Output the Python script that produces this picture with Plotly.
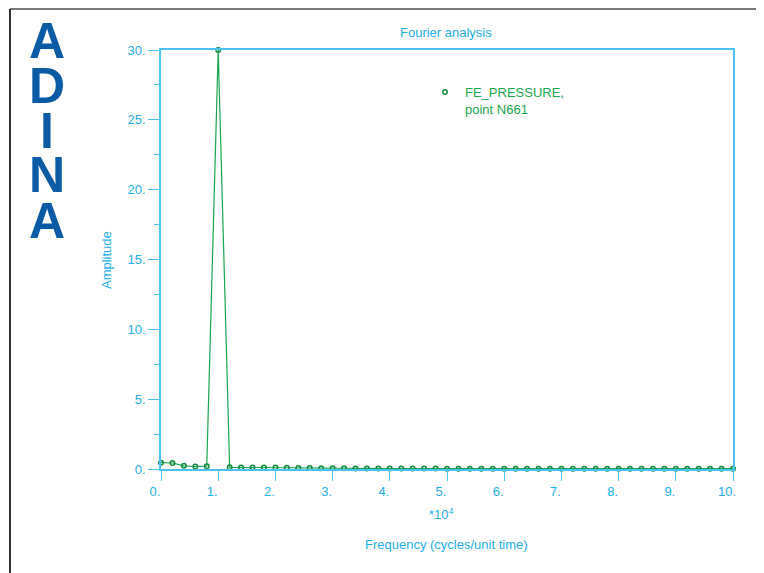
import plotly.graph_objects as go

# Data (frequency in units of 1e4 cycles/unit time)
freq = [0.0, 0.2, 0.4, 0.6, 0.8, 1.0, 1.2, 1.4, 1.6, 1.8,
        2.0, 2.2, 2.4, 2.6, 2.8, 3.0, 3.2, 3.4, 3.6, 3.8,
        4.0, 4.2, 4.4, 4.6, 4.8, 5.0, 5.2, 5.4, 5.6, 5.8,
        6.0, 6.2, 6.4, 6.6, 6.8, 7.0, 7.2, 7.4, 7.6, 7.8,
        8.0, 8.2, 8.4, 8.6, 8.8, 9.0, 9.2, 9.4, 9.6, 9.8, 10.0]
amplitude = [0.45, 0.43, 0.23, 0.18, 0.20, 30.0, 0.12, 0.11, 0.10, 0.10,
             0.10, 0.09, 0.08, 0.07, 0.06, 0.05, 0.05, 0.04, 0.04, 0.04,
             0.03, 0.03, 0.03, 0.03, 0.03, 0.02, 0.02, 0.02, 0.02, 0.02,
             0.02, 0.02, 0.02, 0.02, 0.02, 0.02, 0.02, 0.02, 0.02, 0.02,
             0.02, 0.02, 0.02, 0.02, 0.02, 0.02, 0.02, 0.02, 0.02, 0.02, 0.02]

x_tickvals = [0, 1, 2, 3, 4, 5, 6, 7, 8, 9, 10]
x_ticktext = ["0.", "1.", "2.", "3.", "4.", "5.", "6.", "7.", "8.", "9.", "10."]
y_tickvals = [0, 5, 10, 15, 20, 25, 30]
y_ticktext = ["0.", "5.", "10.", "15.", "20.", "25.", "30."]
series_name = "FE_PRESSURE,<br>point N661"
logo_letters = ["A", "D", "I", "N", "A"]

# The page places the figure 8px from the top-left corner (body margin),
# so the figure is laid out in page coordinates minus that offset.
OFF = 8
W, H = 764 - OFF, 573 - OFF
L, R, T, B = 161 - OFF, 733 - OFF, 50 - OFF, 469 - OFF
FONT = "Liberation Sans, Arial, Helvetica, sans-serif"
TXT = "#22aee8"
AX = "#4cc2f2"
GREEN = "#1aa650"
MGREEN = "#138a40"
LOGO = "#0b5aa6"


def px(x_page):
    return (x_page - OFF - L) / (R - L)


def py(y_page):
    return (B - (y_page - OFF)) / (B - T)


fig = go.Figure()
fig.add_trace(go.Scatter(
    x=freq, y=amplitude, mode="lines+markers", showlegend=False,
    line=dict(color=GREEN, width=1.2),
    marker=dict(symbol="circle-open", size=4.5, color=MGREEN, line=dict(width=1.5)),
    cliponaxis=False,
))
fig.add_trace(go.Scatter(
    x=[None], y=[None], mode="markers", name=series_name, showlegend=True,
    marker=dict(symbol="circle-open", size=4.5, color=MGREEN, line=dict(width=1.5)),
))

annotations = []
logo_y = [41, 86, 131, 175, 221]
for ch, yy in zip(logo_letters, logo_y):
    annotations.append(dict(
        text=ch, x=px(47), y=py(yy), xref="paper", yref="paper",
        xanchor="center", yanchor="middle", showarrow=False,
        font=dict(family="Liberation Sans, Arial", size=50, color=LOGO, weight="bold"),
    ))
annotations += [
    dict(text="Fourier analysis", x=px(446), y=py(33), xref="paper", yref="paper",
         xanchor="center", yanchor="middle", showarrow=False,
         font=dict(family=FONT, size=13, color=TXT)),
    dict(text="Amplitude", x=px(106), y=py(260), xref="paper", yref="paper",
         xanchor="center", yanchor="middle", showarrow=False, textangle=-90,
         font=dict(family=FONT, size=13, color=TXT)),
    dict(text="*10<sup>4</sup>", x=px(441), y=py(514), xref="paper", yref="paper",
         xanchor="center", yanchor="middle", showarrow=False,
         font=dict(family=FONT, size=13, color=TXT)),
    dict(text="Frequency (cycles/unit time)", x=px(446), y=py(544), xref="paper", yref="paper",
         xanchor="center", yanchor="middle", showarrow=False,
         font=dict(family=FONT, size=13, color=TXT)),
]

shapes = [
    dict(type="line", xref="paper", yref="paper", x0=px(10), x1=px(772), y0=py(9), y1=py(9),
         line=dict(color="#777777", width=2)),
    dict(type="line", xref="paper", yref="paper", x0=px(10), x1=px(10), y0=py(9), y1=py(580),
         line=dict(color="#333333", width=2)),
]

fig.update_layout(
    width=W, height=H,
    margin=dict(l=L, r=W - R, t=T, b=H - B, pad=0),
    paper_bgcolor="white", plot_bgcolor="white",
    font=dict(family=FONT, size=13, color=TXT),
    showlegend=True,
    legend=dict(x=px(425), y=py(77), xanchor="left", yanchor="top", valign="top",
                bgcolor="rgba(0,0,0,0)", font=dict(family=FONT, size=13, color=GREEN),
                itemwidth=30, tracegroupgap=0),
    annotations=annotations,
    shapes=shapes,
    xaxis=dict(range=[0, 10], tickvals=x_tickvals, ticktext=x_ticktext,
               showgrid=False, zeroline=False, showline=True, linecolor=AX, linewidth=1.5,
               mirror=True, ticks="outside", ticklen=10, tickcolor=AX, tickwidth=1.2,
               ticklabelshift=-6, tickfont=dict(family=FONT, size=13, color=TXT)),
    yaxis=dict(range=[0, 30], tickvals=y_tickvals, ticktext=y_ticktext,
               showgrid=False, zeroline=False, showline=True, linecolor=AX, linewidth=1.5,
               mirror=True, ticks="outside", ticklen=11, tickcolor=AX, tickwidth=1.2,
               minor=dict(dtick=2.5, ticks="outside", ticklen=5, tickcolor=AX, tickwidth=1.2, showgrid=False),
               tickfont=dict(family=FONT, size=13, color=TXT)),
)

fig.write_html("out.html")
